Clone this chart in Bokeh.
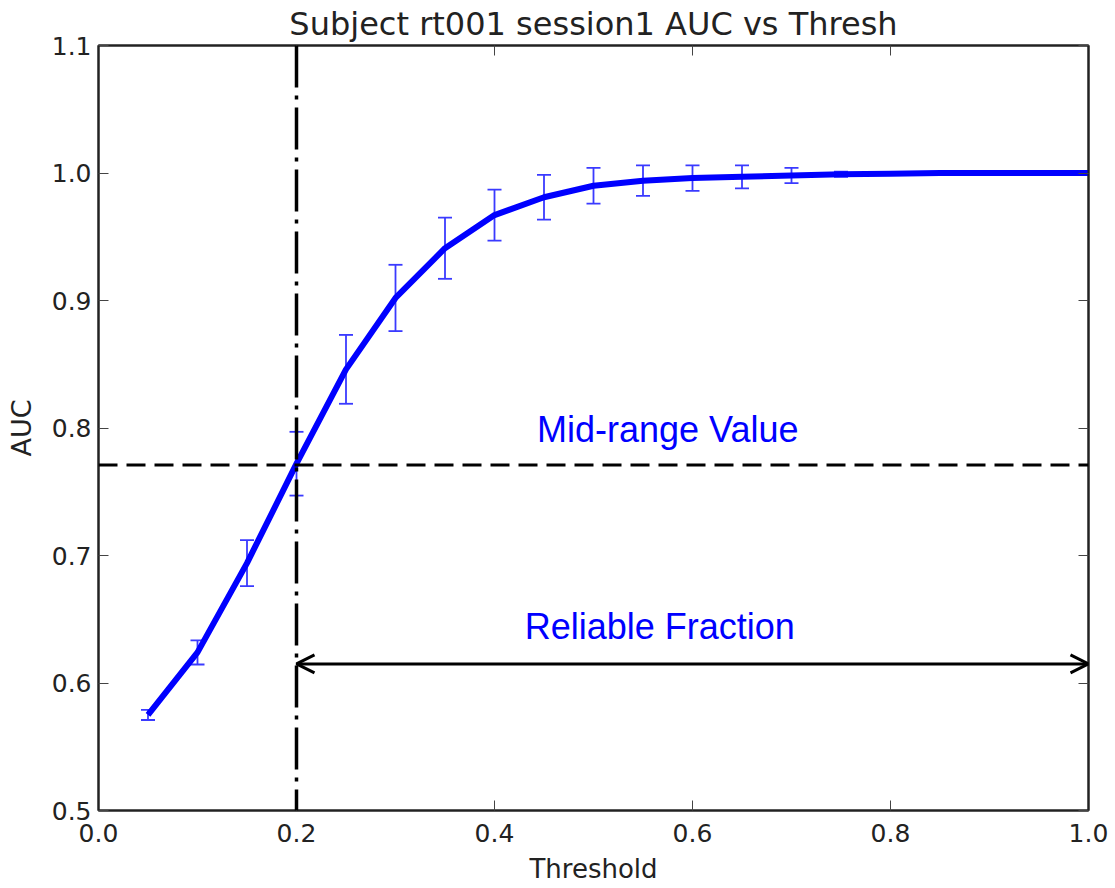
from bokeh.plotting import figure
from bokeh.models import (ColumnDataSource, Whisker, TeeHead, Span, Arrow, OpenHead,
                          Label, LinearAxis, FixedTicker, Range1d, Title, NumeralTickFormatter)
from bokeh.embed import file_html
from bokeh.resources import INLINE

# ---- data ----
thresholds = [0.05, 0.10, 0.15, 0.20, 0.25, 0.30, 0.35, 0.40, 0.45, 0.50,
              0.55, 0.60, 0.65, 0.70, 0.75, 0.80, 0.85, 0.90, 0.95, 1.00]
auc = [0.575, 0.624, 0.694, 0.772, 0.846, 0.902, 0.941, 0.967, 0.981, 0.990,
       0.994, 0.996, 0.997, 0.998, 0.999, 0.9995, 1.0, 1.0, 1.0, 1.0]
auc_err = [0.004, 0.0095, 0.018, 0.025, 0.027, 0.026, 0.024, 0.020, 0.0175, 0.014,
           0.012, 0.010, 0.009, 0.006, 0.002, 0.001, 0.0, 0.0, 0.0, 0.0]
x_ticks = [0.0, 0.2, 0.4, 0.6, 0.8, 1.0]
y_ticks = [0.5, 0.6, 0.7, 0.8, 0.9, 1.0, 1.1]
mid_range_value = 0.771
reliable_threshold = 0.2
arrow_y = 0.615
arrow_end = 1.0
mid_label_pos = (0.575, 0.799)
rel_label_pos = (0.567, 0.644)

FONT = "DejaVu Sans"
ANN_FONT = "Liberation Sans"

src = ColumnDataSource(dict(
    x=thresholds, y=auc,
    lower=[a - e for a, e in zip(auc, auc_err)],
    upper=[a + e for a, e in zip(auc, auc_err)],
))

p = figure(width=1108, height=886, output_backend="svg", toolbar_location=None,
           x_range=Range1d(0.0, 1.0), y_range=Range1d(0.5, 1.1),
           min_border_left=98, min_border_right=20, min_border_top=42, min_border_bottom=76)
p.title = Title(text="Subject rt001 session1 AUC vs Thresh", align="center",
                text_font=FONT, text_font_size="32px", text_font_style="normal",
                text_color="#222222", offset=0, standoff=5)
p.grid.visible = False
p.outline_line_color = "#222222"
p.outline_line_width = 2

for ax in (p.xaxis[0], p.yaxis[0]):
    ax.major_label_text_font = FONT
    ax.major_label_text_font_size = "25px"
    ax.major_label_text_color = "#222222"
    ax.axis_label_text_font = FONT
    ax.axis_label_text_font_style = "normal"
    ax.axis_label_text_color = "#222222"
    ax.major_tick_in = 10
    ax.major_tick_out = 0
    ax.minor_tick_line_color = None
    ax.axis_line_width = 2
    ax.axis_line_color = "#222222"
    ax.major_tick_line_width = 1
    ax.major_tick_line_color = "#444444"
    ax.formatter = NumeralTickFormatter(format="0.0")

p.xaxis[0].ticker = FixedTicker(ticks=x_ticks)
p.yaxis[0].ticker = FixedTicker(ticks=y_ticks)
p.xaxis[0].axis_label = "Threshold"
p.yaxis[0].axis_label = "AUC"
p.xaxis[0].axis_label_text_font_size = "26px"
p.yaxis[0].axis_label_text_font_size = "27px"
p.xaxis[0].major_label_standoff = 13
p.yaxis[0].major_label_standoff = 7
p.yaxis[0].axis_label_standoff = 12
p.xaxis[0].axis_label_standoff = 9

top = LinearAxis(ticker=FixedTicker(ticks=x_ticks), major_label_text_font_size="0px",
                 major_tick_in=10, major_tick_out=0, minor_tick_line_color=None,
                 axis_line_width=2, axis_line_color="#222222", major_tick_line_color="#444444")
right = LinearAxis(ticker=FixedTicker(ticks=y_ticks), major_label_text_font_size="0px",
                   major_tick_in=10, major_tick_out=0, minor_tick_line_color=None,
                   axis_line_width=2, axis_line_color="#222222", major_tick_line_color="#444444")
top.major_label_text_color = None
right.major_label_text_color = None
p.add_layout(top, "above")
p.add_layout(right, "right")

# reference lines
p.add_layout(Span(location=mid_range_value, dimension="width", line_color="black",
                  line_width=3, line_dash="19 9"))
p.add_layout(Span(location=reliable_threshold, dimension="height", line_color="black",
                  line_width=3.5, line_dash="42 8 4 8"))

# error bars
w = Whisker(source=src, base="x", lower="lower", upper="upper",
            line_color="#3a3aff", line_width=1.8,
            upper_head=TeeHead(size=14, line_color="#3a3aff", line_width=1.8),
            lower_head=TeeHead(size=14, line_color="#3a3aff", line_width=1.8))
p.add_layout(w)

# main curve
p.line("x", "y", source=src, line_color="#0000ff", line_width=6)

# arrow
p.add_layout(Arrow(x_start=reliable_threshold, y_start=arrow_y, x_end=arrow_end, y_end=arrow_y,
                   line_color="black", line_width=3,
                   start=OpenHead(size=18, line_width=3, line_color="black"),
                   end=OpenHead(size=18, line_width=3, line_color="black")))

# labels
p.add_layout(Label(x=mid_label_pos[0], y=mid_label_pos[1], text="Mid-range Value",
                   text_align="center", text_baseline="alphabetic", text_color="#0000ff",
                   text_font=ANN_FONT, text_font_size="36px"))
p.add_layout(Label(x=rel_label_pos[0], y=rel_label_pos[1], text="Reliable Fraction",
                   text_align="center", text_baseline="alphabetic", text_color="#0000ff",
                   text_font=ANN_FONT, text_font_size="36px"))

open("out.html", "w").write(file_html(p, INLINE))
